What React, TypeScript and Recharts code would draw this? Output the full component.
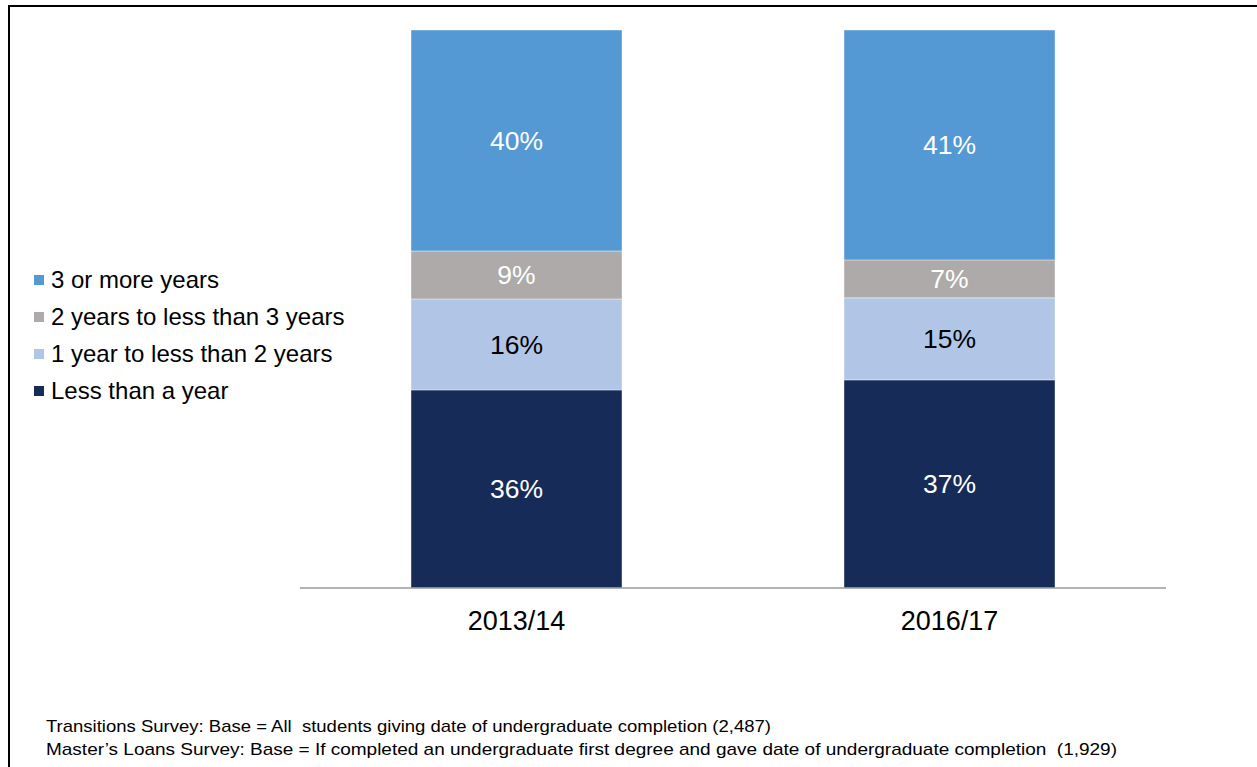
import React from 'react';
import { BarChart, Bar, XAxis, YAxis, Legend, LabelList } from 'recharts';

// Survey years on the x axis
const years = ['2013/14', '2016/17'];

// Share of students (%) by time since undergraduate completion
const lessThanYear = [35.5, 37.3];
const oneToTwo = [16.3, 14.7];
const twoToThree = [8.6, 6.8];
const threePlus = [39.6, 41.2];

const seriesNames = [
    'Less than a year',
    '1 year to less than 2 years',
    '2 years to less than 3 years',
    '3 or more years',
];

const footnotes = [
    'Transitions Survey: Base = All  students giving date of undergraduate completion (2,487)',
    'Master\u2019s Loans Survey: Base = If completed an undergraduate first degree and gave date of undergraduate completion  (1,929)',
];

const chartData = years.map((year, i) => ({
    year,
    a: lessThanYear[i],
    b: oneToTwo[i],
    c: twoToThree[i],
    d: threePlus[i],
}));

const FONT = '"Liberation Sans", Arial, sans-serif';
const COLORS = ['#172B58', '#B1C6E7', '#ADAAA9', '#5499D4'];
const LABEL_COLORS = ['#ffffff', '#000000', '#ffffff', '#ffffff'];
const KEYS = ['a', 'b', 'c', 'd'];

const pct = (v: any) => `${Math.round(Number(v))}%`;

// legend lists the top segment first, like the stack reads
const renderLegend = () => {
    const order = [3, 2, 1, 0];
    return (
        <div style={{ fontFamily: FONT }}>
            {order.map((i) => (
                <div key={seriesNames[i]} style={{ display: 'flex', alignItems: 'center', height: 37 }}>
                    <span style={{ width: 10, height: 10, background: COLORS[i], marginRight: 7, flex: 'none' }} />
                    <span style={{ fontSize: 24, color: '#000', whiteSpace: 'nowrap' }}>{seriesNames[i]}</span>
                </div>
            ))}
        </div>
    );
};

export default function App() {
    return (
        <div style={{ position: 'absolute', left: 0, top: 0, width: 1257, height: 767, overflow: 'hidden', background: '#fff' }}>
            {/* frame around the slide */}
            <div style={{ position: 'absolute', left: 8, top: 5, width: 1400, height: 900, border: '2px solid #000' }} />

            <div style={{ position: 'absolute', left: 0, top: 0 }}>
                <BarChart
                    width={1257}
                    height={767}
                    data={chartData}
                    margin={{ top: 30, right: 91, bottom: 149, left: 300 }}
                >
                    <XAxis
                        dataKey="year"
                        height={30}
                        axisLine={{ stroke: '#9a9a9a', strokeWidth: 1.5 }}
                        tickLine={false}
                        tickSize={0}
                        tickMargin={23}
                        tick={{ fill: '#000', fontSize: 27, fontFamily: FONT }}
                    />
                    <YAxis hide domain={[0, 100]} />
                    <Legend
                        layout="vertical"
                        align="center"
                        verticalAlign="middle"
                        content={renderLegend}
                        wrapperStyle={{ left: 34, top: 261, width: 340 }}
                    />
                    {KEYS.map((key, i) => (
                        <Bar
                            key={key}
                            dataKey={key}
                            name={seriesNames[i]}
                            stackId="s"
                            fill={COLORS[i]}
                            stroke="#ffffff"
                            strokeWidth={0.4}
                            barSize={211}
                            isAnimationActive={false}
                        >
                            <LabelList
                                dataKey={key}
                                position="center"
                                formatter={pct}
                                fill={LABEL_COLORS[i]}
                                style={{ fontSize: 26.5, fontFamily: FONT }}
                            />
                        </Bar>
                    ))}
                </BarChart>
            </div>

            {/* base notes under the chart */}
            <svg width={1257} height={767} style={{ position: 'absolute', left: 0, top: 0, pointerEvents: 'none' }}>
                <text x={46} y={732} fontSize={17} fontFamily={FONT} fill="#000" textLength={725} lengthAdjust="spacingAndGlyphs" xmlSpace="preserve">
                    {footnotes[0]}
                </text>
                <text x={46} y={755} fontSize={17} fontFamily={FONT} fill="#000" textLength={1071} lengthAdjust="spacingAndGlyphs" xmlSpace="preserve">
                    {footnotes[1]}
                </text>
            </svg>
        </div>
    );
}
